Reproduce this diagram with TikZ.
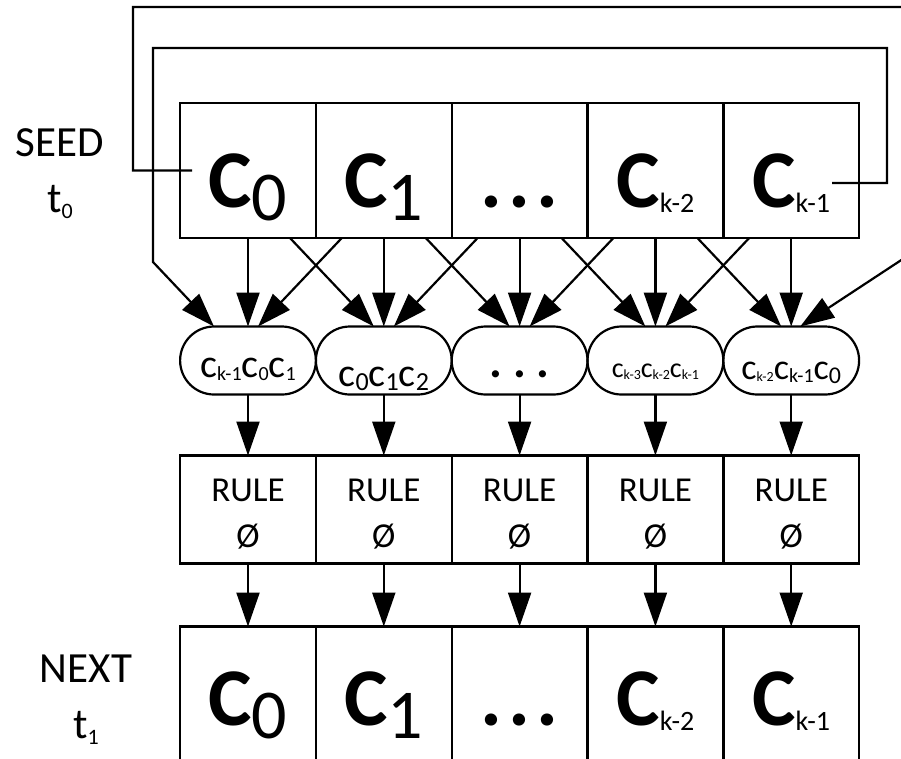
\documentclass[tikz,border=0pt]{standalone}
\usepackage{fontspec}
\setmainfont{Carlito}
\usepackage{graphicx}
\usetikzlibrary{arrows.meta, positioning}

% lowered index: font size, drop, text
\newcommand{\lowidx}[3]{\raisebox{-#2}{\fontsize{#1}{#1}\selectfont\mdseries #3}}

\begin{document}
\begin{tikzpicture}[x=1pt, y=-1pt,
    cell/.style={draw, line width=2.4pt, minimum width=135.8pt, minimum height=135pt, inner sep=0pt, outer sep=0pt, text height=73pt, text depth=0pt, font=\fontsize{82}{90}\selectfont\bfseries},
    nextcell/.style={cell, text height=62pt},
    pill/.style={draw, line width=2.2pt, rounded corners=34pt, minimum width=135.8pt, minimum height=68pt, inner sep=0pt, outer sep=0pt, text height=34pt, text depth=0pt, font=\fontsize{40}{48}\selectfont},
    rulebox/.style={draw, line width=2.4pt, minimum width=135.8pt, minimum height=108pt, inner sep=0pt, outer sep=0pt, align=center, text height=75pt, text depth=0pt, font=\fontsize{35}{46}\selectfont},
    lbl/.style={align=center, font=\fontsize{43}{56}\selectfont},
    arrow/.style={-{Triangle[length=34pt, width=23pt]}, line width=2.2pt}
]
\useasboundingbox (0,0) rectangle (901,758);
\clip (0,0) rectangle (901,758);

% Nodes
\node [cell] (cur0) at (248,170.5) {C\lowidx{70}{13pt}{0}};
\node [cell, right=0pt of cur0] (cur1) {C\lowidx{70}{13pt}{1}};
\node [cell, right=0pt of cur1] (cur2) {.\hspace{6pt}.\hspace{6pt}.};
\node [cell, right=0pt of cur2] (cur3) {C\lowidx{28}{5pt}{k-2}};
\node [cell, right=0pt of cur3] (cur4) {C\lowidx{28}{5pt}{k-1}};

\node [pill, below=88.5pt of cur0] (nbh0) {c\lowidx{20}{3pt}{k-1}c\lowidx{20}{3pt}{0}c\lowidx{20}{3pt}{1}};
\node [pill, right=0pt of nbh0] (nbh1) {\raisebox{-9pt}{c\lowidx{26}{4pt}{0}c\lowidx{26}{4pt}{1}c\lowidx{26}{4pt}{2}}};
\node [pill, right=0pt of nbh1] (nbh2) {\fontsize{48}{48}\selectfont\bfseries .\hspace{11pt}.\hspace{11pt}.};
\node [pill, right=0pt of nbh2] (nbh3) {\fontsize{28}{28}\selectfont c\lowidx{14}{2pt}{k-3}c\lowidx{14}{2pt}{k-2}c\lowidx{14}{2pt}{k-1}};
\node [pill, right=0pt of nbh3] (nbh4) {\fontsize{36}{36}\selectfont\raisebox{-2pt}{c\lowidx{14}{2pt}{k-2}c\lowidx{20}{3pt}{k-1}c\lowidx{24}{4pt}{0}}};

\node [rulebox, below=61pt of nbh0] (rule0) {RULE\\Ø};
\node [rulebox, right=0pt of rule0] (rule1) {RULE\\Ø};
\node [rulebox, right=0pt of rule1] (rule2) {RULE\\Ø};
\node [rulebox, right=0pt of rule2] (rule3) {RULE\\Ø};
\node [rulebox, right=0pt of rule3] (rule4) {RULE\\Ø};

\node [nextcell, below=63pt of rule0] (nxt0) {C\lowidx{70}{13pt}{0}};
\node [nextcell, right=0pt of nxt0] (nxt1) {C\lowidx{70}{13pt}{1}};
\node [nextcell, right=0pt of nxt1] (nxt2) {.\hspace{6pt}.\hspace{6pt}.};
\node [nextcell, right=0pt of nxt2] (nxt3) {C\lowidx{28}{5pt}{k-2}};
\node [nextcell, right=0pt of nxt3] (nxt4) {C\lowidx{28}{5pt}{k-1}};

\node [lbl] (seed) at (60,174) {SEED\\t\lowidx{22}{6pt}{0}};
\node [lbl] (next) at (86,700) {NEXT\\t\lowidx{22}{6pt}{1}};

% taps for the wrap-around wires
\coordinate (tapL) at ([xshift=12pt]cur0.west);
\coordinate (tapR) at ([xshift=41pt, yshift=-12.5pt]cur4.center);

% Arrows
\draw [arrow] (cur0.south) -- (nbh0.north);
\draw [arrow] (cur1.south) -- (nbh1.north);
\draw [arrow] (cur2.south) -- (nbh2.north);
\draw [arrow] (cur3.south) -- (nbh3.north);
\draw [arrow] (cur4.south) -- (nbh4.north);

% neighbours cross over
\draw [arrow] ([xshift=42pt]cur0.south) -- ([xshift=-10pt]nbh1.north);
\draw [arrow] ([xshift=-42pt]cur1.south) -- ([xshift=10pt]nbh0.north);
\draw [arrow] ([xshift=42pt]cur1.south) -- ([xshift=-10pt]nbh2.north);
\draw [arrow] ([xshift=-42pt]cur2.south) -- ([xshift=10pt]nbh1.north);
\draw [arrow] ([xshift=42pt]cur2.south) -- ([xshift=-10pt]nbh3.north);
\draw [arrow] ([xshift=-42pt]cur3.south) -- ([xshift=10pt]nbh2.north);
\draw [arrow] ([xshift=42pt]cur3.south) -- ([xshift=-10pt]nbh4.north);
\draw [arrow] ([xshift=-42pt]cur4.south) -- ([xshift=10pt]nbh3.north);

% wrap-around: last cell to first window, first cell to last window
\draw [arrow] (tapR) -| (887,48) -| (153,262) -- ([xshift=-34pt]nbh0.north);
\draw [arrow] (tapL) -| (133,7) -| (915,251) -- ([xshift=9pt]nbh4.north);

\draw [arrow] (nbh0.south) -- (rule0.north);
\draw [arrow] (nbh1.south) -- (rule1.north);
\draw [arrow] (nbh2.south) -- (rule2.north);
\draw [arrow] (nbh3.south) -- (rule3.north);
\draw [arrow] (nbh4.south) -- (rule4.north);

\draw [arrow] (rule0.south) -- (nxt0.north);
\draw [arrow] (rule1.south) -- (nxt1.north);
\draw [arrow] (rule2.south) -- (nxt2.north);
\draw [arrow] (rule3.south) -- (nxt3.north);
\draw [arrow] (rule4.south) -- (nxt4.north);

\end{tikzpicture}
\end{document}
